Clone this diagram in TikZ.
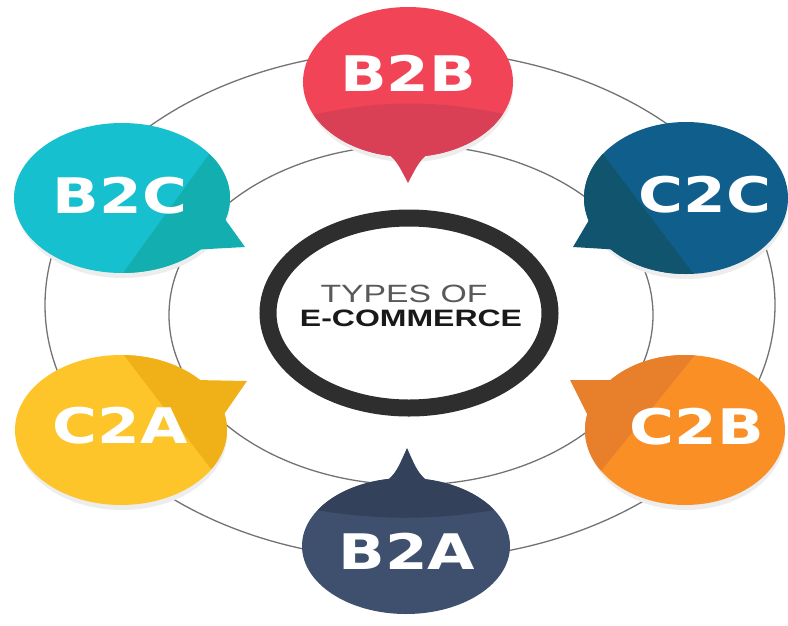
\documentclass[tikz,border=0pt]{standalone}
\usepackage{fontspec}
\setmainfont{Liberation Sans}
\newfontfamily\bubblefont{DejaVu Sans}[FakeStretch=1.25]
\newfontfamily\hubfont{Liberation Sans}[FakeStretch=1.35]
\usepackage{tikz}
\definecolor{btbmain}{HTML}{F24457}
\definecolor{btbdark}{HTML}{D94055}
\definecolor{btcmain}{HTML}{17C0CF}
\definecolor{btcdark}{HTML}{13AEB0}
\definecolor{ctcmain}{HTML}{0F5E8C}
\definecolor{ctcdark}{HTML}{11546E}
\definecolor{ctamain}{HTML}{FDC52A}
\definecolor{ctadark}{HTML}{F0B018}
\definecolor{ctbmain}{HTML}{F98F25}
\definecolor{ctbdark}{HTML}{E77F2B}
\definecolor{btamain}{HTML}{3F4F6E}
\definecolor{btadark}{HTML}{33415B}
\definecolor{ringgray}{HTML}{2E2E2E}
\tikzset{
   orbit/.style={draw=black!55, line width=1.3pt},
   hubring/.style={draw=ringgray, line width=17pt, fill=white},
   bubbleshadow/.style={fill=black!7},
   bubblelabel/.style={text=white, inner sep=0pt,
      font=\bubblefont\bfseries\fontsize{49}{51}\selectfont},
   typestext/.style={text=black!65, inner sep=0pt,
      font=\hubfont\fontsize{25}{27}\selectfont},
   commercetext/.style={text=black!90, inner sep=0pt,
      font=\hubfont\bfseries\fontsize{23.7}{25}\selectfont},
    }

\begin{document}
\begin{tikzpicture}[x=1pt, y=-1pt]
            \useasboundingbox[fill=white] (0,0) rectangle (788,625);
            % orbits
            \draw[orbit] (410,305) ellipse [x radius=365, y radius=255];
            \draw[orbit] (411,315) ellipse [x radius=242, y radius=170];
            % shadows
            \fill[bubbleshadow] (409,87) ellipse [x radius=104, y radius=75];
            \fill[bubbleshadow] (123,203) ellipse [x radius=107, y radius=75];
            \fill[bubbleshadow] (687,203) ellipse [x radius=101, y radius=76];
            \fill[bubbleshadow] (122,435) ellipse [x radius=105, y radius=75];
            \fill[bubbleshadow] (686,435) ellipse [x radius=99, y radius=75];
            % B2B
            \fill[btbdark] (375,145) .. controls (395,158) .. (408,183) .. controls (421,158) .. (441,145) -- cycle;
            \fill[btbmain] (408,82) ellipse [x radius=105, y radius=75];
            \begin{scope}
              \clip (408,82) ellipse [x radius=105, y radius=75];
              \fill[btbdark] (290,120) .. controls (380,98) and (440,98) .. (530,120) -- (530,170) -- (290,170) -- cycle;
            \end{scope}
            \node[bubblelabel] (b2b) at (408,73) {B2B};
            % B2C
            \fill[btcdark] (222,215) -- (245,247) -- (190,250) -- cycle;
            \fill[btcmain] (122,198) ellipse [x radius=108, y radius=75];
            \begin{scope}
              \clip (122,198) ellipse [x radius=108, y radius=75];
              \fill[btcdark] (212,150) -- (118,280) -- (260,280) -- (260,150) -- cycle;
            \end{scope}
            \node[bubblelabel] (b2c) at (120,196) {B2C};
            % C2C
            \fill[ctcdark] (592,215) -- (573,247) -- (622,250) -- cycle;
            \fill[ctcmain] (686,198) ellipse [x radius=102, y radius=76];
            \begin{scope}
              \clip (686,198) ellipse [x radius=102, y radius=76];
              \fill[ctcdark] (600,150) -- (698,280) -- (560,280) -- (560,150) -- cycle;
            \end{scope}
            \node[bubblelabel] (c2c) at (705,195) {C2C};
            % C2A
            \fill[ctadark] (195,380) -- (247,381) -- (220,420) -- cycle;
            \fill[ctamain] (121,430) ellipse [x radius=106, y radius=75];
            \begin{scope}
              \clip (121,430) ellipse [x radius=106, y radius=75];
              \fill[ctadark] (120,350) -- (218,478) -- (260,478) -- (260,350) -- cycle;
            \end{scope}
            \node[bubblelabel] (c2a) at (120,426) {C2A};
            % C2B
            \fill[ctbdark] (612,380) -- (570,380) -- (590,420) -- cycle;
            \fill[ctbmain] (685,430) ellipse [x radius=100, y radius=75];
            \begin{scope}
              \clip (685,430) ellipse [x radius=100, y radius=75];
              \fill[ctbdark] (699,350) -- (600,472) -- (560,472) -- (560,350) -- cycle;
            \end{scope}
            \node[bubblelabel] (c2b) at (697,427) {C2B};
            % B2A
            \fill[btadark] (375,490) .. controls (395,475) .. (407,448) .. controls (419,475) .. (439,490) -- cycle;
            \fill[btamain] (406,546) ellipse [x radius=104, y radius=68];
            \begin{scope}
              \clip (406,546) ellipse [x radius=104, y radius=68];
              \fill[btadark] (290,505) .. controls (370,522) and (440,522) .. (520,505) -- (520,460) -- (290,460) -- cycle;
            \end{scope}
            \node[bubblelabel] (b2a) at (407,551) {B2A};
            % hub
            \draw[hubring] (409,313) ellipse [x radius=141, y radius=95];
            \node[typestext] (types) at (404,294) {TYPES OF};
            \node[commercetext] (ecommerce) at (411,318) {E-COMMERCE};
        \end{tikzpicture}
\end{document}
